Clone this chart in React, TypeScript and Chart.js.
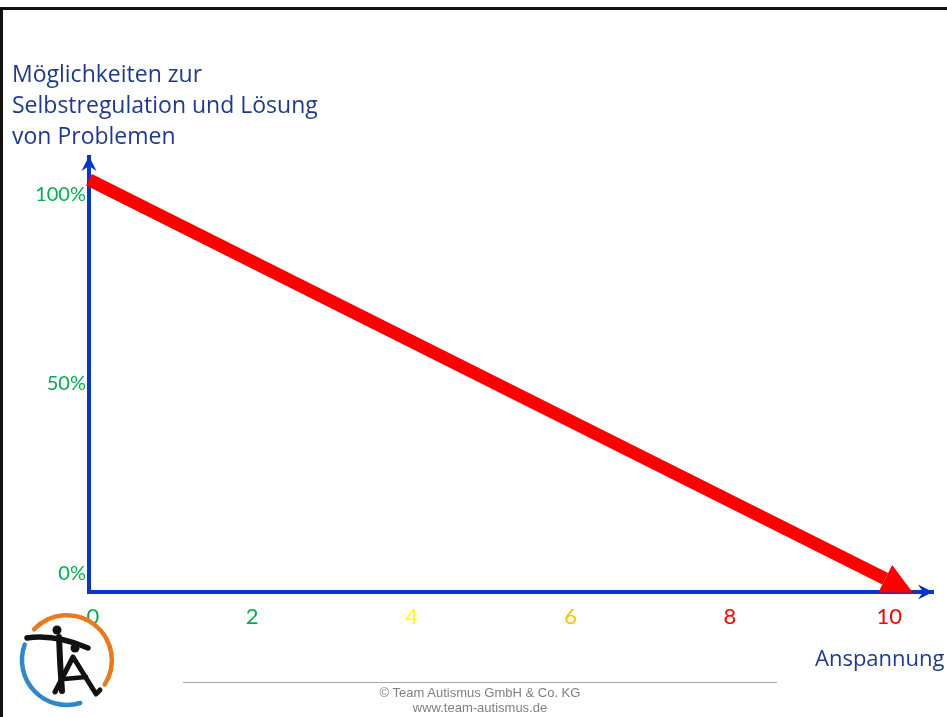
import React, { useEffect, useRef } from 'react';
import { Chart, registerables } from 'chart.js';

Chart.register(...registerables);

// ---- data ----
const tensionLevels = [0, 10];
const regulationPercent = [104, -1.5];
const xTickValues = [0, 2, 4, 6, 8, 10];
const xTickColors = ['#00B050', '#00B050', '#FFFF00', '#FFC000', '#FF0000', '#FF0000'];
const yTickValues = [0, 50, 100];
const titleLines = ['Möglichkeiten zur', 'Selbstregulation und Lösung', 'von Problemen'];
const xAxisTitle = 'Anspannung';
const footerLines = ['© Team Autismus GmbH & Co. KG', 'www.team-autismus.de'];

const AXIS_BLUE = '#0536D0';
const ARROW_RED = '#FF0000';
const TEXT_BLUE = '#1E3A96';

function notchedHead(ctx: CanvasRenderingContext2D, x: number, y: number, ux: number, uy: number) {
  const L = 15, H = 7.5, N = 10;
  const nx = -uy, ny = ux;
  ctx.beginPath();
  ctx.moveTo(x, y);
  ctx.lineTo(x - L * ux + H * nx, y - L * uy + H * ny);
  ctx.lineTo(x - N * ux, y - N * uy);
  ctx.lineTo(x - L * ux - H * nx, y - L * uy - H * ny);
  ctx.closePath();
  ctx.fill();
}

const arrowPlugin = {
  id: 'arrowHeads',
  afterDraw(chart: any) {
    const { ctx, chartArea: a } = chart;
    ctx.save();
    ctx.fillStyle = AXIS_BLUE;
    ctx.fillRect(a.left - 2, a.bottom - 2, 4, 4);
    notchedHead(ctx, a.left, a.top - 1, 0, -1);
    notchedHead(ctx, a.right, a.bottom, 1, 0);
    const pts = chart.getDatasetMeta(0).data;
    if (pts.length >= 2) {
      const p0 = pts[pts.length - 2];
      const p1 = pts[pts.length - 1];
      const dx = p1.x - p0.x, dy = p1.y - p0.y;
      const len = Math.hypot(dx, dy) || 1;
      const ux = dx / len, uy = dy / len;
      const nx = -uy, ny = ux;
      const L = 31, H = 15.5;
      ctx.fillStyle = ARROW_RED;
      ctx.beginPath();
      ctx.moveTo(p1.x + L * ux, p1.y + L * uy);
      ctx.lineTo(p1.x + H * nx, p1.y + H * ny);
      ctx.lineTo(p1.x - H * nx, p1.y - H * ny);
      ctx.closePath();
      ctx.fill();
    }
    ctx.restore();
  },
};

function ChartCanvas() {
  const ref = useRef<HTMLCanvasElement | null>(null);
  useEffect(() => {
    let chart: Chart | null = null;
    let cancelled = false;
    const build = () => {
      if (cancelled || !ref.current) return;
      chart = new Chart(ref.current, {
        type: 'line',
        data: {
          datasets: [
            {
              data: tensionLevels.map((x, i) => ({ x, y: regulationPercent[i] })),
              borderColor: ARROW_RED,
              borderWidth: 13,
              borderCapStyle: 'butt',
              pointRadius: 0,
              tension: 0,
              clip: false as any,
            },
          ],
        },
        options: {
          animation: false,
          responsive: false,
          maintainAspectRatio: false,
          events: [],
          layout: { padding: { top: 157, right: 14, bottom: 0, left: 0 } },
          plugins: { legend: { display: false }, tooltip: { enabled: false } },
          scales: {
            x: {
              type: 'linear',
              min: 0,
              max: 10.6,
              afterBuildTicks: (s: any) => {
                s.ticks = xTickValues.map((v) => ({ value: v }));
              },
              afterFit: (s: any) => {
                s.height = 125;
              },
              grid: { display: false, drawTicks: false },
              border: { display: true, color: AXIS_BLUE, width: 4 },
              ticks: {
                color: (c: any) => xTickColors[c.index] || '#00B050',
                font: { family: 'Lato', size: 22 },
                padding: 12,
                labelOffset: 4,
                maxRotation: 0,
                autoSkip: false,
              },
            },
            y: {
              type: 'linear',
              min: -5,
              max: 110,
              afterBuildTicks: (s: any) => {
                s.ticks = yTickValues.map((v) => ({ value: v }));
              },
              afterFit: (s: any) => {
                s.width = 89;
              },
              grid: { display: false, drawTicks: false },
              border: { display: true, color: AXIS_BLUE, width: 4 },
              ticks: {
                color: '#00B050',
                font: { family: 'Lato', size: 20 },
                padding: 3,
                callback: (v: any) => v + '%',
              },
            },
          },
        },
        plugins: [arrowPlugin],
      });
    };
    const fonts: any = (document as any).fonts;
    if (fonts && fonts.load) {
      Promise.all([fonts.load('22px Lato'), fonts.load('20px Lato'), fonts.load('22px "Open Sans"')]).then(build, build);
    } else {
      build();
    }
    return () => {
      cancelled = true;
      if (chart) chart.destroy();
    };
  }, []);
  return (
    <canvas
      ref={ref}
      width={947}
      height={717}
      style={{ position: 'absolute', left: 0, top: 0, width: 947, height: 717 }}
    />
  );
}

function Logo() {
  const cx = 67, cy = 660, r = 45;
  const pt = (deg: number) => {
    const t = (deg * Math.PI) / 180;
    return `${(cx + r * Math.cos(t)).toFixed(1)} ${(cy + r * Math.sin(t)).toFixed(1)}`;
  };
  return (
    <g>
      <path d={`M ${pt(-137)} A ${r} ${r} 0 0 1 ${pt(33)}`} stroke="#EC7A1C" strokeWidth={4.5} fill="none" strokeLinecap="round" />
      <path d={`M ${pt(200)} A ${r} ${r} 0 0 0 ${pt(73)}`} stroke="#2F88CC" strokeWidth={4.5} fill="none" strokeLinecap="round" />
      <circle cx={57} cy={630} r={4.5} fill="#111" />
      <path d="M 27 638 Q 55 634 88 648" stroke="#111" strokeWidth={5.5} fill="none" strokeLinecap="round" />
      <path d="M 59 637 Q 60 665 62 691" stroke="#111" strokeWidth={6} fill="none" strokeLinecap="round" />
      <circle cx={75} cy={648} r={4.5} fill="#111" />
      <path d="M 55 692 L 73 657 L 96 694 L 100 690" stroke="#111" strokeWidth={5} fill="none" strokeLinecap="round" strokeLinejoin="round" />
      <path d="M 64 679 L 86 677" stroke="#111" strokeWidth={4.5} fill="none" strokeLinecap="round" />
    </g>
  );
}

export default function App() {
  return (
    <div
      style={{
        position: 'absolute',
        left: 0,
        top: 0,
        width: 947,
        height: 717,
        overflow: 'hidden',
        background: '#fff',
      }}
    >
      <div
        style={{
          position: 'absolute',
          left: 0,
          top: 7,
          width: 1000,
          height: 800,
          borderTop: '3px solid #111',
          borderLeft: '3px solid #111',
          boxSizing: 'border-box',
        }}
      />
      <ChartCanvas />
      <div
        style={{
          position: 'absolute',
          left: 12,
          top: 58,
          fontFamily: '"Open Sans"',
          fontSize: 23,
          lineHeight: '31px',
          color: TEXT_BLUE,
          whiteSpace: 'nowrap',
        }}
      >
        {titleLines.map((l) => (
          <div key={l}>{l}</div>
        ))}
      </div>
      <div
        style={{
          position: 'absolute',
          left: 815,
          top: 642,
          fontFamily: '"Open Sans"',
          fontSize: 22,
          lineHeight: '31px',
          color: TEXT_BLUE,
          whiteSpace: 'nowrap',
        }}
      >
        {xAxisTitle}
      </div>
      <svg
        width={947}
        height={717}
        style={{ position: 'absolute', left: 0, top: 0, pointerEvents: 'none' }}
      >
        <line x1={183} y1={682.5} x2={777} y2={682.5} stroke="#A6A6A6" strokeWidth={1} />
        <Logo />
      </svg>
      <div
        style={{
          position: 'absolute',
          left: 280,
          top: 685,
          width: 400,
          textAlign: 'center',
          fontFamily: '"Liberation Sans", Arial, sans-serif',
          fontSize: 13,
          lineHeight: '15px',
          color: '#808080',
        }}
      >
        {footerLines.map((l) => (
          <div key={l}>{l}</div>
        ))}
      </div>
    </div>
  );
}
